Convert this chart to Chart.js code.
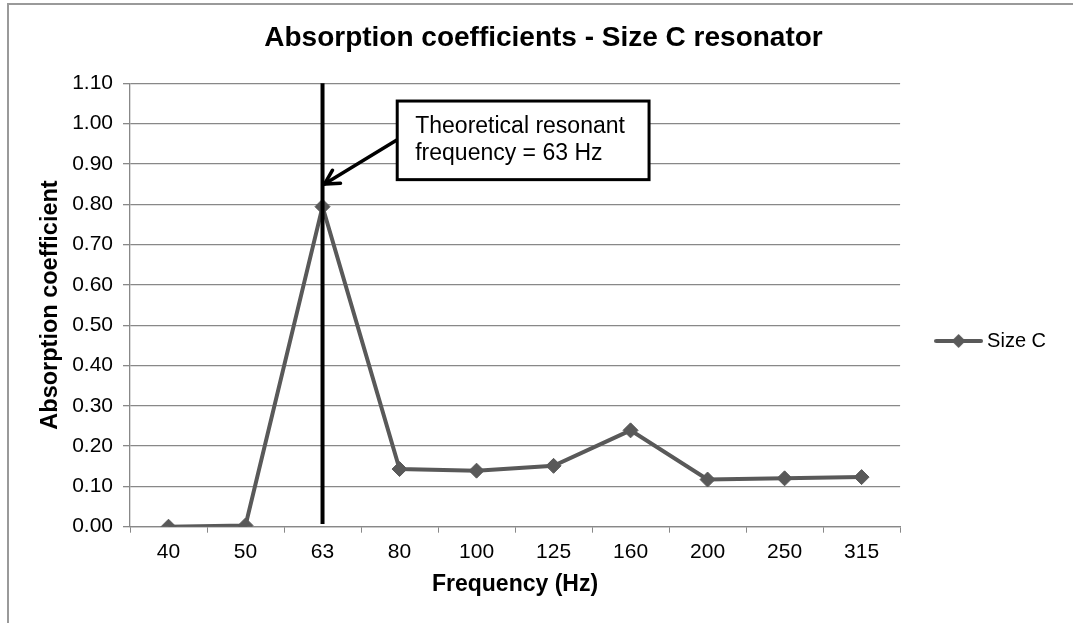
<!DOCTYPE html>
<html><head><meta charset="utf-8">
<script src="https://cdn.jsdelivr.net/npm/chart.js@4.4.1/dist/chart.umd.min.js"></script>
<style>html,body{margin:0;padding:0;background:#fff;}#wrap{width:1073px;height:623px;position:relative;}</style>
</head><body><div id="wrap"><canvas id="c" width="1073" height="623"></canvas></div>
<script>
// ---- data ----
const categories = ['40', '50', '63', '80', '100', '125', '160', '200', '250', '315'];
const sizeC = [0.000, 0.003, 0.794, 0.143, 0.139, 0.151, 0.239, 0.117, 0.120, 0.123];
const yTickLabels = ['0.00', '0.10', '0.20', '0.30', '0.40', '0.50', '0.60', '0.70', '0.80', '0.90', '1.00', '1.10'];
const seriesName = 'Size C';
const chartTitle = 'Absorption coefficients - Size C resonator';
const xTitle = 'Frequency (Hz)';
const yTitle = 'Absorption coefficient';
const noteLines = ['Theoretical resonant', 'frequency = 63 Hz'];
const resonantCategory = '63';
const resonantRange = [0.007, 1.10];

// ---- layout / style (not data) ----
const FONT = "'Liberation Sans', Arial, sans-serif";
const noteBox = { fromIndex: 2.97, toIndex: 6.24, top: 1.056, bottom: 0.861 };
const arrowFrom = 0.96, arrowTo = 0.85;
const GRAY = '#595959';

function legendImage() {
  const c = document.createElement('canvas');
  c.width = 49; c.height = 16;
  const g = c.getContext('2d');
  g.strokeStyle = GRAY; g.lineWidth = 4; g.lineCap = 'round';
  g.beginPath(); g.moveTo(2, 8); g.lineTo(47, 8); g.stroke();
  g.fillStyle = GRAY;
  g.beginPath(); g.moveTo(24.5 - 7, 8); g.lineTo(24.5, 1); g.lineTo(24.5 + 7, 8); g.lineTo(24.5, 15); g.closePath(); g.fill();
  return c;
}

const framePlugin = {
  id: 'frame',
  beforeDraw(chart) {
    const ctx = chart.ctx;
    ctx.save();
    ctx.strokeStyle = '#9a9a9a'; ctx.lineWidth = 2;
    ctx.beginPath(); ctx.moveTo(8, 623); ctx.lineTo(8, 4); ctx.lineTo(1073, 4); ctx.stroke();
    ctx.restore();
  }
};

const notePlugin = {
  id: 'note',
  afterDatasetsDraw(chart) {
    const ctx = chart.ctx, xs = chart.scales.x, ys = chart.scales.y;
    const xr = xs.getPixelForValue(categories.indexOf(resonantCategory));
    ctx.save();
    ctx.strokeStyle = '#000'; ctx.lineWidth = 4;
    ctx.beginPath(); ctx.moveTo(xr, ys.getPixelForValue(resonantRange[1])); ctx.lineTo(xr, ys.getPixelForValue(resonantRange[0])); ctx.stroke();
    const bl = xs.getPixelForValue(noteBox.fromIndex), br = xs.getPixelForValue(noteBox.toIndex);
    const bt = ys.getPixelForValue(noteBox.top), bb = ys.getPixelForValue(noteBox.bottom);
    const ax0 = bl, ay0 = ys.getPixelForValue(arrowFrom);
    const ax1 = xr + 2, ay1 = ys.getPixelForValue(arrowTo);
    ctx.lineWidth = 3.5; ctx.lineCap = 'round';
    ctx.beginPath(); ctx.moveTo(ax0, ay0); ctx.lineTo(ax1, ay1); ctx.stroke();
    const ang = Math.atan2(ay0 - ay1, ax0 - ax1);
    const L = 16, spread = 0.5;
    ctx.beginPath();
    ctx.moveTo(ax1 + L * Math.cos(ang - spread), ay1 + L * Math.sin(ang - spread));
    ctx.lineTo(ax1, ay1);
    ctx.lineTo(ax1 + L * Math.cos(ang + spread), ay1 + L * Math.sin(ang + spread));
    ctx.stroke();
    ctx.lineCap = 'butt';
    ctx.fillStyle = '#fff';
    ctx.fillRect(bl, bt, br - bl, bb - bt);
    ctx.lineWidth = 3; ctx.strokeStyle = '#000';
    ctx.strokeRect(bl, bt, br - bl, bb - bt);
    ctx.fillStyle = '#000';
    ctx.font = '23px ' + FONT;
    ctx.textBaseline = 'alphabetic'; ctx.textAlign = 'left';
    ctx.fillText(noteLines[0], bl + 18, bt + 32);
    ctx.fillText(noteLines[1], bl + 18, bt + 59);
    ctx.restore();
  }
};

new Chart(document.getElementById('c'), {
  type: 'line',
  data: {
    labels: categories,
    datasets: [{
      label: seriesName,
      data: sizeC,
      borderColor: GRAY,
      backgroundColor: GRAY,
      borderWidth: 4,
      pointStyle: 'rectRot',
      pointRadius: 7.5,
      pointBorderWidth: 1,
      pointBackgroundColor: GRAY,
      pointBorderColor: GRAY,
      tension: 0,
      fill: false
    }]
  },
  options: {
    responsive: false,
    animation: false,
    devicePixelRatio: 1,
    layout: { padding: { left: 31, right: 17, top: 0, bottom: 0 } },
    plugins: {
      title: {
        display: true, text: chartTitle, color: '#000',
        font: { family: FONT, size: 28, weight: 'bold' },
        padding: { top: 21.4, bottom: 28.3 }
      },
      legend: {
        display: true, position: 'right', align: 'start', fullSize: false,
        title: { display: true, text: '', font: { size: 10 }, padding: { top: 195.7, bottom: 0 } },
        labels: {
          usePointStyle: true, pointStyle: legendImage(), pointStyleWidth: 37,
          padding: 40, color: '#000',
          font: { family: FONT, size: 20 }
        }
      },
      tooltip: { enabled: false }
    },
    scales: {
      x: {
        type: 'category',
        offset: true,
        afterFit(s) { s.height = 96.3; },
        grid: { display: true, drawOnChartArea: false, drawTicks: true, tickLength: 6, color: '#888', offset: true },
        border: { display: true, color: '#888', width: 1.3 },
        ticks: { color: '#000', font: { family: FONT, size: 21 }, padding: 7, maxRotation: 0, autoSkip: false },
        title: { display: true, text: xTitle, color: '#000', font: { family: FONT, size: 23, weight: 'bold' }, padding: { top: 0, bottom: 24.2 } }
      },
      y: {
        min: 0, max: 1.1,
        afterFit(s) { s.width = 99; },
        afterBuildTicks(s) { s.ticks = yTickLabels.map(t => ({ value: parseFloat(t) })); },
        grid: { color: '#888', lineWidth: 1.3, tickLength: 7, drawTicks: true },
        border: { display: true, color: '#888', width: 1.3 },
        ticks: {
          color: '#000', font: { family: FONT, size: 21 }, padding: 10,
          callback: (v, i) => yTickLabels[i]
        },
        title: { display: true, text: yTitle, color: '#000', font: { family: FONT, size: 23.5, weight: 'bold' }, padding: { top: 5, bottom: 0 } }
      }
    }
  },
  plugins: [framePlugin, notePlugin]
});
</script></body></html>
